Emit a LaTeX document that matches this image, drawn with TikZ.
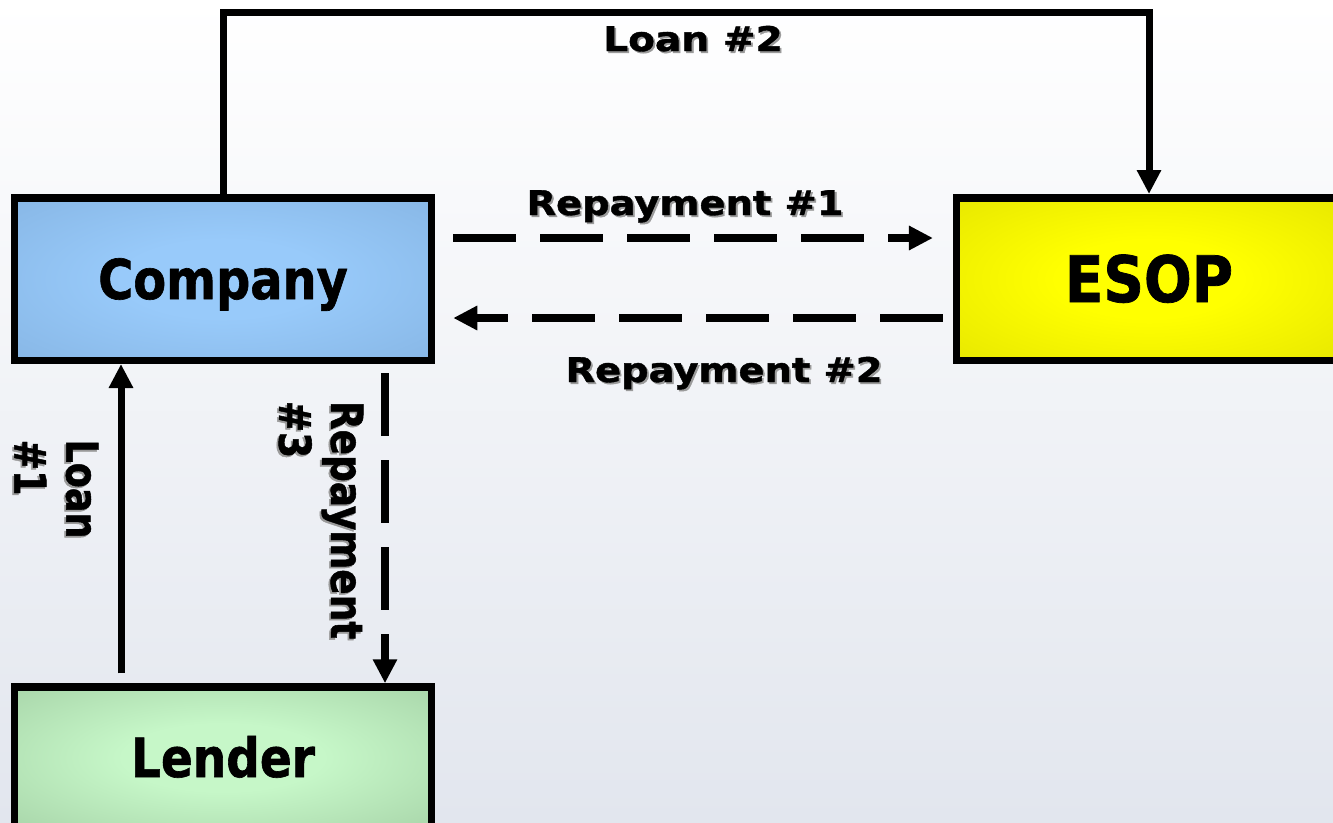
\documentclass[tikz,border=0pt]{standalone}
\usepackage{fontspec}
\setmainfont{DejaVu Sans}
\newfontfamily\heavyfont{DejaVu Sans}[BoldFeatures={FakeBold=1.2}]
\usetikzlibrary{arrows.meta,positioning}
\definecolor{esopSky}{HTML}{E2E6EE}
\definecolor{esopShade}{HTML}{9A9A9A}
\definecolor{esopBlue}{HTML}{98CAFA}
\definecolor{esopBlueEdge}{HTML}{7FADDB}
\definecolor{esopYellow}{HTML}{FFFF00}
\definecolor{esopYellowEdge}{HTML}{DCDC00}
\definecolor{esopGreen}{HTML}{C6F7C8}
\definecolor{esopGreenEdge}{HTML}{9AC59B}
\colorlet{glowIn}{white}
\colorlet{glowOut}{black}
\pgfdeclareradialshading[glowIn,glowOut]{glow}{\pgfpointorigin}{color(0bp)=(glowIn); color(12bp)=(glowIn); color(48bp)=(glowOut); color(50bp)=(glowOut)}
\newcommand{\shadowtext}[2]{\makebox[0pt][l]{\hspace{1.8pt}\raisebox{-1.8pt}{\textcolor{esopShade}{\scalebox{#1}[1]{#2}}}}\scalebox{#1}[1]{#2}}

\begin{document}
\begin{tikzpicture}[x=1pt,y=-1pt,line join=miter]
\useasboundingbox (0,0) rectangle (1333,822);
\path[top color=white,bottom color=esopSky] (0,0) rectangle (1333,822);
\tikzset{box/.style 2 args={draw=black,line width=7.5pt,inner sep=0pt,text depth=0pt,/utils/exec={\colorlet{glowIn}{#1}\colorlet{glowOut}{#2}},shade,shading=glow},
flow/.style={draw=black,line width=7pt,-{Triangle[length=24pt,width=23pt]}},
paid/.style={flow,line width=8.5pt,dash pattern=on 63pt off 24pt},
tag/.style={inner sep=0pt,font=\heavyfont\bfseries\fontsize{34}{38}\selectfont},
sidetag/.style={inner sep=0pt,rotate=-90,align=left,font=\heavyfont\bfseries\fontsize{44}{52}\selectfont}}
\node[box={esopBlue}{esopBlueEdge},minimum width=417pt,minimum height=162.5pt,text height=40pt,font=\heavyfont\bfseries\fontsize{55}{60}\selectfont] (company) at (223,279) {\scalebox{0.87}[1]{Company}};
\node[box={esopYellow}{esopYellowEdge},minimum width=384.6pt,minimum height=162.5pt,text height=46pt,font=\heavyfont\bfseries\fontsize{64}{70}\selectfont] (esop) at (1149,279) {\scalebox{0.88}[1]{ESOP}};
\node[box={esopGreen}{esopGreenEdge},minimum width=417pt,minimum height=141pt,text height=39pt,font=\heavyfont\bfseries\fontsize{54}{60}\selectfont] (lender) at (223,757.5) {\scalebox{0.87}[1]{Lender}};
\draw[flow] (company.north) -- ++(0,-181.25) -| (esop.north);
\draw[flow] ([xshift=-102pt,yshift=10pt]lender.north) -- ([xshift=-102pt]company.south);
\draw[paid] ([xshift=162pt,yshift=-9pt]company.south) -- ([xshift=162pt]lender.north);
\draw[paid] ([xshift=18pt,yshift=41pt]company.east) -- ([xshift=-20pt,yshift=41pt]esop.west);
\draw[paid] ([xshift=-10pt,yshift=-39pt]esop.west) -- ([xshift=18pt,yshift=-39pt]company.east);
\node[tag,anchor=base] (loanB) at (693,51) {\shadowtext{1.15}{Loan \#2}};
\node[tag,anchor=base] (payA) at (685,215) {\shadowtext{1.13}{Repayment \#1}};
\node[tag,anchor=base] (payB) at (724,382) {\shadowtext{1.13}{Repayment \#2}};
\node[sidetag] (loanA) at (55.5,489) {\shadowtext{0.83}{Loan}\\\shadowtext{0.83}{\#1}};
\node[sidetag] (payC) at (320,520) {\shadowtext{0.85}{Repayment}\\\shadowtext{0.85}{\#3}};
\end{tikzpicture}
\end{document}
